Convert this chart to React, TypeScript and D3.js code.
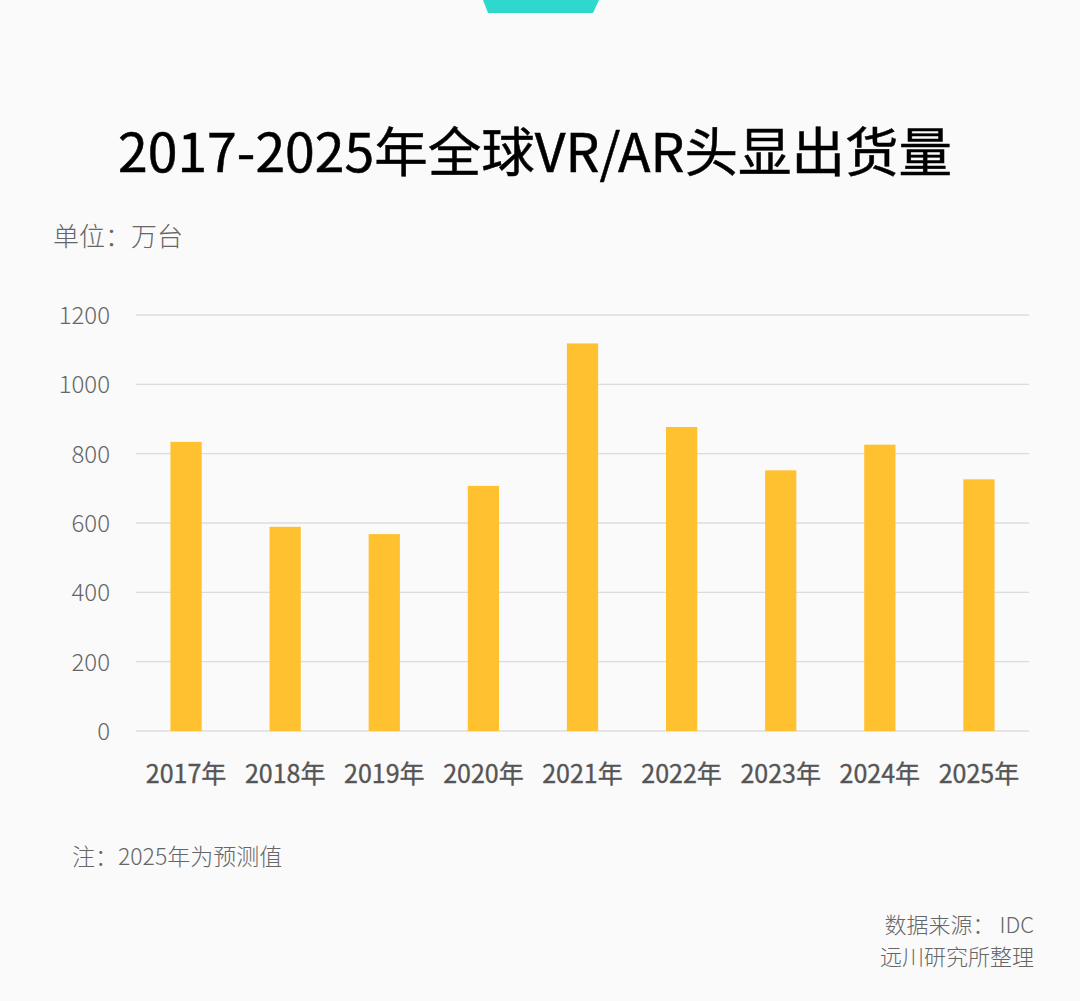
import { useEffect, useRef } from 'react';
import * as d3 from 'd3';

const years = ['2017年', '2018年', '2019年', '2020年', '2021年', '2022年', '2023年', '2024年', '2025年'];
const shipments = [834, 589, 568, 707, 1118, 877, 752, 826, 726];
const yTicks = [0, 200, 400, 600, 800, 1000, 1200];

const W = 1080;
const H = 1001;
const FONT = '"Noto Sans CJK SC", "Noto Sans", sans-serif';

export default function App() {
  const svgRef = useRef<SVGSVGElement>(null);

  useEffect(() => {
    document.body.style.margin = '0';
    if (!svgRef.current) return;
    const svg = d3.select(svgRef.current);
    svg.selectAll('*').remove();

    svg.append('rect').attr('width', W).attr('height', H).attr('fill', '#fafafa');

    // top tab
    svg.append('path')
      .attr('d', 'M483,0 L599,0 L593,13 L488,13 Z')
      .attr('fill', '#2ed8cc');

    // title, regular weight thickened a bit to look medium
    svg.append('text')
      .attr('x', 535)
      .attr('y', 172)
      .attr('text-anchor', 'middle')
      .attr('font-family', FONT)
      .attr('font-size', 53.5)
      .attr('font-weight', 400)
      .attr('fill', '#000')
      .attr('stroke', '#000')
      .attr('stroke-width', 0.5)
      .text('2017-2025年全球VR/AR头显出货量');

    svg.append('text')
      .attr('x', 53)
      .attr('y', 246)
      .attr('font-family', FONT)
      .attr('font-size', 26)
      .attr('font-weight', 300)
      .attr('fill', '#666')
      .text('单位：万台');

    const x = d3.scaleBand()
      .domain(years)
      .range([136.5, 1028.5])
      .paddingInner(0.685)
      .paddingOuter(0.3425);

    const y = d3.scaleLinear().domain([0, 1200]).range([731, 315]);

    // grid
    svg.append('g')
      .selectAll('line')
      .data(yTicks)
      .enter()
      .append('line')
      .attr('x1', 136)
      .attr('x2', 1029)
      .attr('y1', d => y(d))
      .attr('y2', d => y(d))
      .attr('stroke', '#dcdcdc')
      .attr('stroke-width', 1.4);

    svg.append('g')
      .selectAll('text')
      .data(yTicks)
      .enter()
      .append('text')
      .attr('x', 110)
      .attr('y', d => y(d) + 9)
      .attr('text-anchor', 'end')
      .attr('font-family', FONT)
      .attr('font-size', 24)
      .attr('font-weight', 300)
      .attr('fill', '#666')
      .text(d => d);

    // bars
    svg.append('g')
      .selectAll('rect')
      .data(shipments)
      .enter()
      .append('rect')
      .attr('x', (_, i) => x(years[i]) || 0)
      .attr('y', d => y(d))
      .attr('width', x.bandwidth())
      .attr('height', d => y(0) - y(d))
      .attr('fill', '#ffc12f');

    svg.append('g')
      .selectAll('text')
      .data(years)
      .enter()
      .append('text')
      .attr('x', d => (x(d) || 0) + x.bandwidth() / 2)
      .attr('y', 783)
      .attr('text-anchor', 'middle')
      .attr('font-family', FONT)
      .attr('font-size', 25)
      .attr('font-weight', 400)
      .attr('fill', '#555')
      .attr('stroke', '#555')
      .attr('stroke-width', 0.35)
      .text(d => d);

    svg.append('text')
      .attr('x', 72)
      .attr('y', 865)
      .attr('font-family', FONT)
      .attr('font-size', 23)
      .attr('font-weight', 300)
      .attr('fill', '#666')
      .text('注：2025年为预测值');

    const foot = svg.append('g')
      .attr('font-family', FONT)
      .attr('font-size', 22)
      .attr('font-weight', 300)
      .attr('fill', '#666')
      .attr('text-anchor', 'end');
    foot.append('text').attr('x', 1034).attr('y', 933).text('数据来源： IDC');
    foot.append('text').attr('x', 1034).attr('y', 965).text('远川研究所整理');
  }, []);

  return <svg ref={svgRef} width={W} height={H} style={{ display: 'block' }}></svg>;
}
